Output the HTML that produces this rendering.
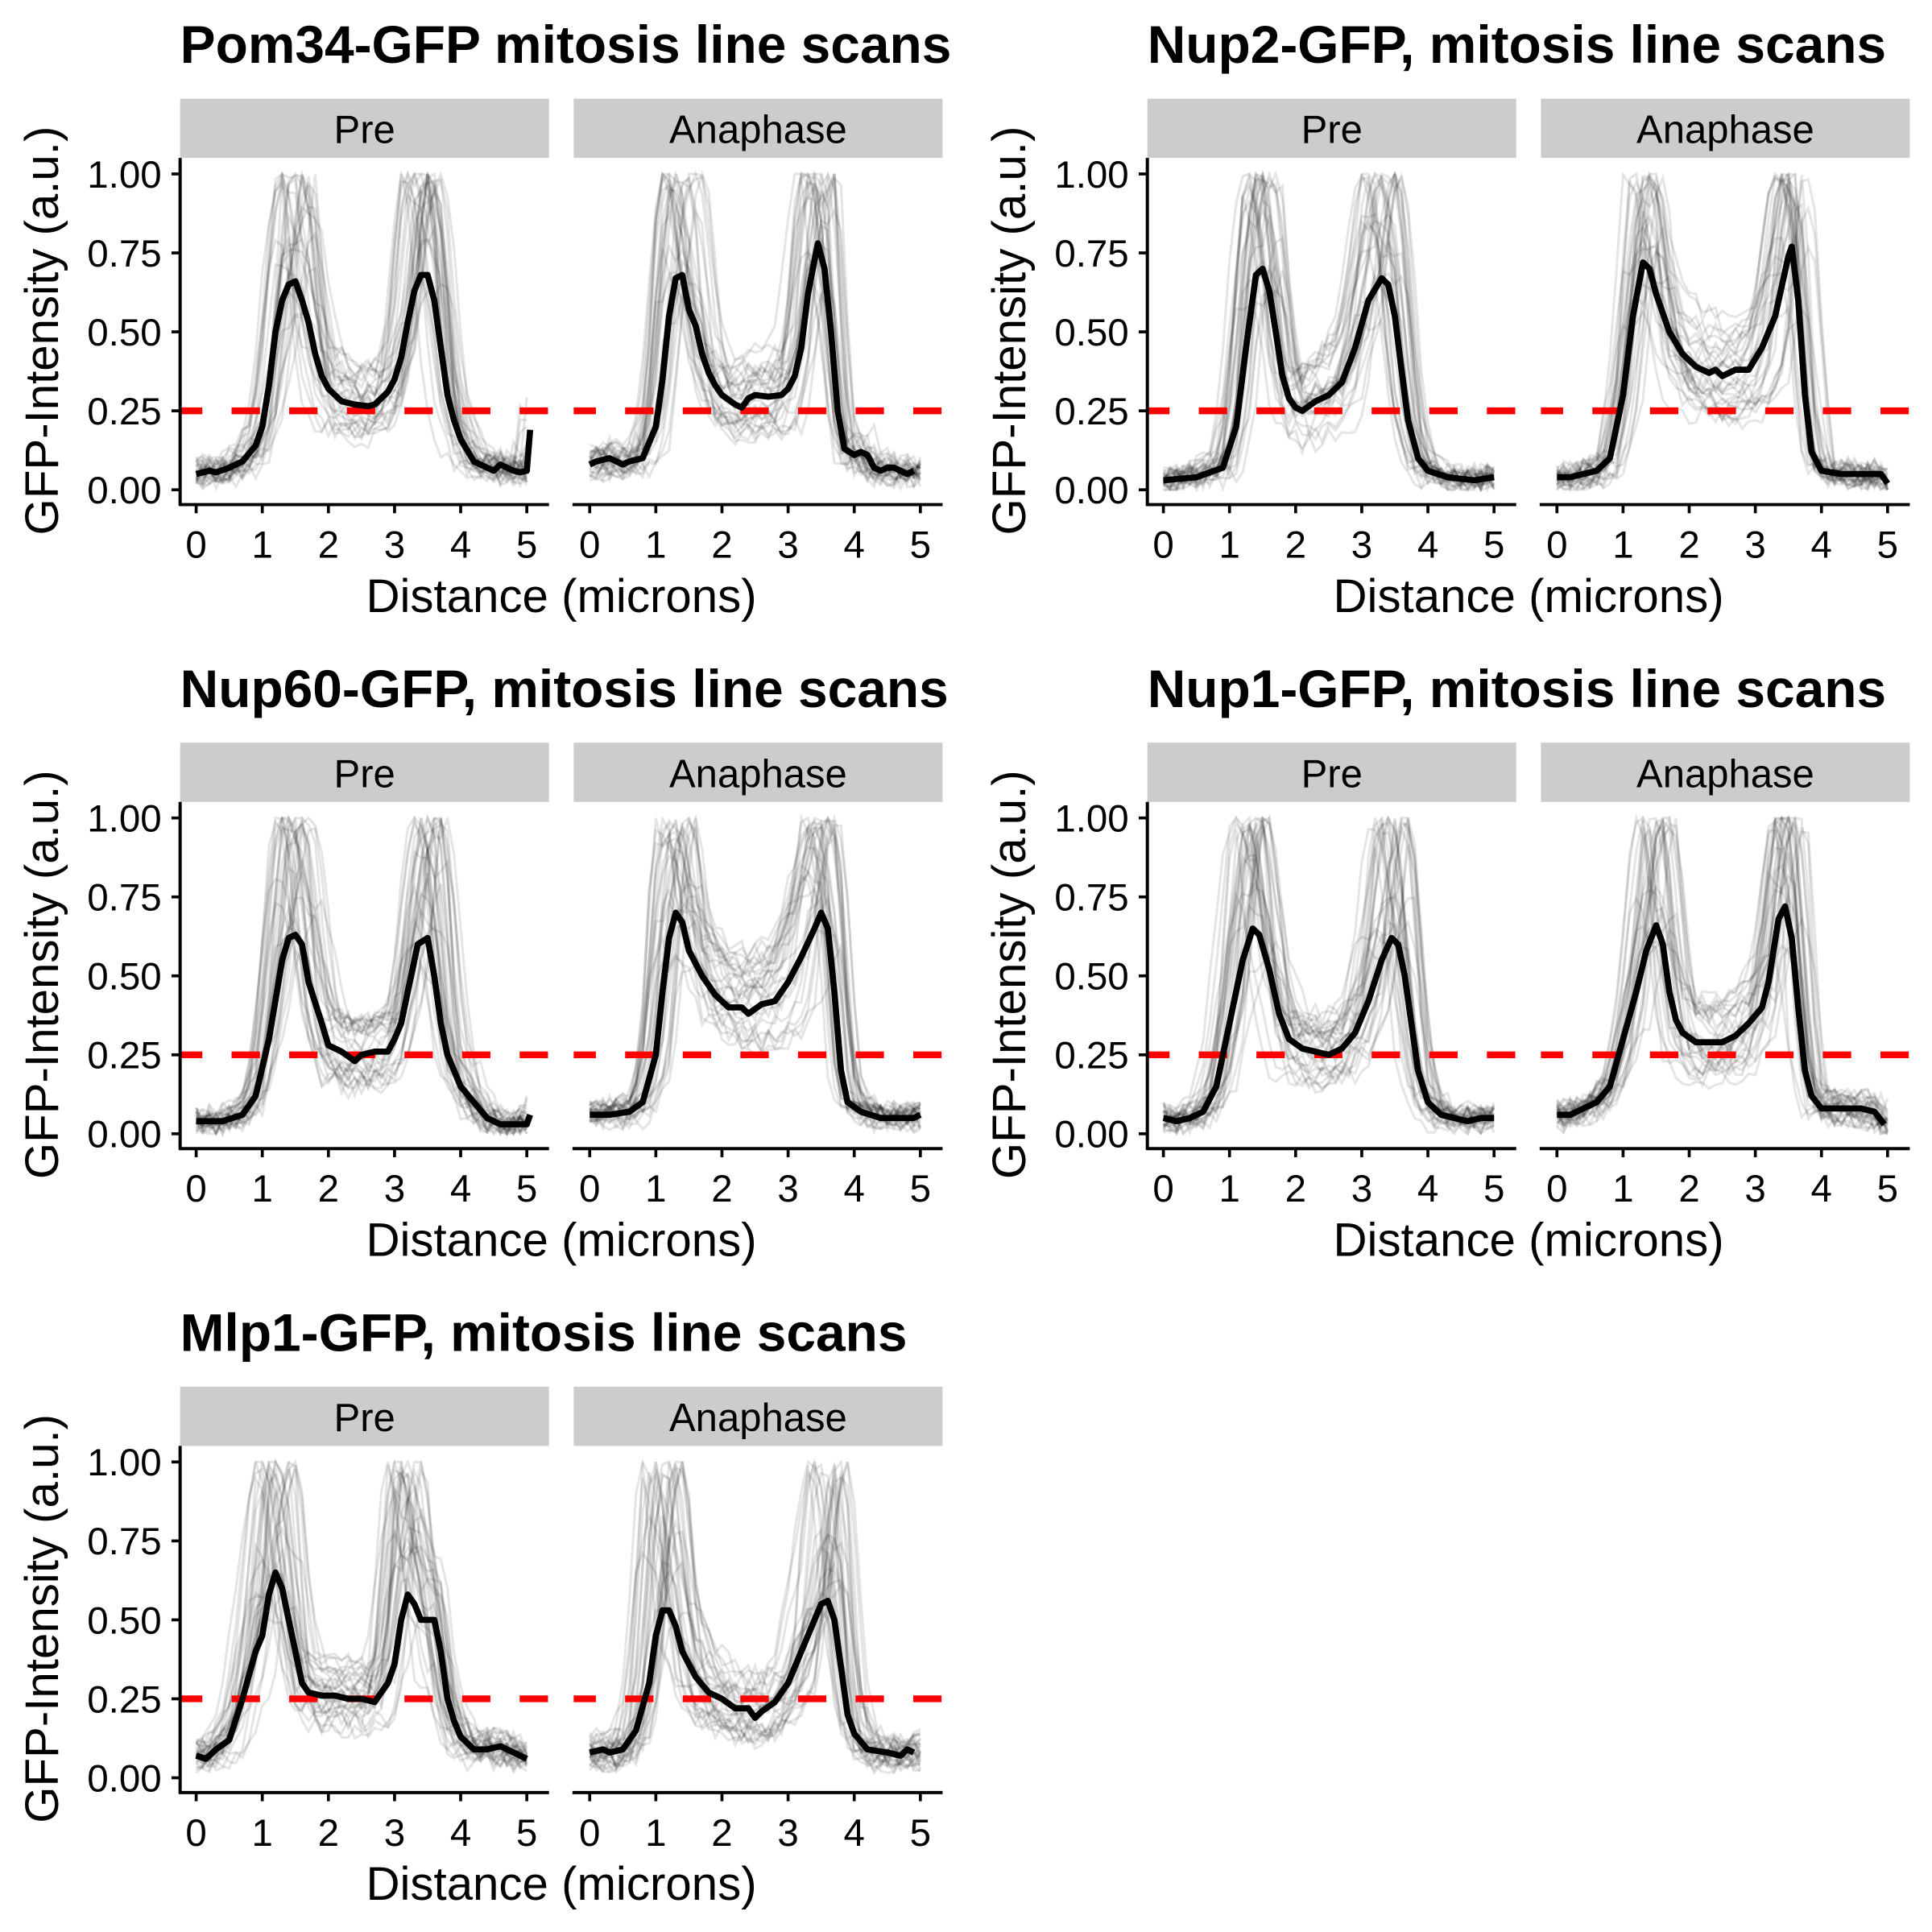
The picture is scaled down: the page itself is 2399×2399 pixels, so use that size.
<!DOCTYPE html>
<html><head><meta charset="utf-8"><style>
html,body{margin:0;padding:0;background:#fff;}
svg{display:block;}
text{font-family:"Liberation Sans",Arial,sans-serif;fill:#000;}
</style></head><body>
<svg id="s" width="2399" height="2399" viewBox="0 0 1566 1566" xmlns="http://www.w3.org/2000/svg"></svg>
<script>
const P=(a)=>{const r=[];for(let i=0;i<a.length;i+=2)r.push([a[i],a[i+1]]);return r;};
const D={
pomP:P([0,.05,.2,.06,.3,.055,.5,.07,.7,.09,.9,.14,1.0,.2,1.1,.33,1.2,.5,1.3,.6,1.4,.65,1.5,.66,1.6,.6,1.7,.53,1.8,.43,1.9,.36,2.0,.32,2.2,.28,2.4,.27,2.6,.265,2.7,.27,2.9,.31,3.0,.35,3.1,.42,3.2,.53,3.3,.63,3.4,.68,3.5,.68,3.6,.6,3.7,.45,3.8,.3,3.9,.22,4.0,.16,4.2,.09,4.4,.07,4.5,.06,4.6,.08,4.8,.06,4.9,.055,5.0,.06,5.05,.19]),
pomA:P([0,.08,.1,.09,.3,.1,.5,.08,.6,.09,.8,.1,1.0,.2,1.1,.35,1.2,.55,1.3,.67,1.4,.68,1.5,.57,1.6,.52,1.7,.43,1.8,.37,1.9,.33,2.0,.3,2.2,.27,2.3,.26,2.4,.29,2.5,.3,2.7,.295,2.9,.3,3.0,.32,3.1,.36,3.2,.45,3.3,.62,3.45,.78,3.55,.7,3.65,.5,3.75,.25,3.85,.13,4.0,.11,4.1,.12,4.2,.11,4.3,.07,4.4,.06,4.5,.07,4.6,.07,4.7,.06,4.8,.05,4.9,.06]),
n2P:P([0,.03,.5,.04,.9,.07,1.1,.2,1.25,.45,1.4,.68,1.5,.7,1.6,.63,1.7,.5,1.8,.36,1.9,.29,2.0,.26,2.1,.25,2.3,.28,2.5,.3,2.7,.34,2.9,.45,3.1,.6,3.3,.67,3.4,.65,3.5,.55,3.6,.38,3.7,.22,3.85,.1,4.0,.06,4.3,.04,4.7,.03,5.0,.04]),
n2A:P([0,.04,.2,.04,.4,.05,.6,.06,.8,.1,1.0,.3,1.15,.55,1.3,.72,1.4,.7,1.5,.62,1.7,.5,1.9,.43,2.1,.39,2.3,.37,2.4,.38,2.5,.36,2.7,.38,2.9,.38,3.1,.45,3.3,.55,3.5,.74,3.55,.77,3.65,.6,3.75,.3,3.85,.12,4.0,.06,4.3,.05,4.6,.05,4.9,.05,5.0,.02]),
n60P:P([0,.04,.4,.04,.7,.06,.9,.12,1.1,.3,1.3,.55,1.4,.62,1.5,.63,1.6,.6,1.7,.48,1.9,.35,2.0,.28,2.2,.26,2.4,.23,2.5,.25,2.7,.26,2.9,.26,3.0,.3,3.1,.35,3.2,.45,3.35,.6,3.5,.62,3.6,.5,3.7,.35,3.8,.25,4.0,.15,4.2,.1,4.4,.05,4.6,.03,4.8,.03,5.0,.03,5.05,.06]),
n60A:P([0,.06,.3,.06,.6,.07,.8,.1,1.0,.25,1.1,.45,1.2,.62,1.3,.7,1.4,.67,1.5,.58,1.7,.5,1.9,.44,2.1,.4,2.3,.4,2.4,.38,2.6,.41,2.8,.42,3.0,.48,3.2,.56,3.4,.65,3.5,.7,3.6,.65,3.7,.45,3.8,.2,3.9,.1,4.1,.07,4.4,.05,4.7,.05,4.9,.05,5.0,.06]),
n1P:P([0,.05,.2,.04,.4,.05,.6,.07,.8,.15,1.0,.35,1.2,.55,1.35,.65,1.45,.63,1.6,.52,1.75,.38,1.9,.3,2.1,.27,2.3,.26,2.5,.25,2.7,.27,2.9,.32,3.1,.42,3.3,.55,3.45,.62,3.55,.6,3.65,.5,3.75,.35,3.85,.2,4.0,.1,4.2,.06,4.4,.05,4.6,.04,4.8,.05,5.0,.05]),
n1A:P([0,.06,.2,.06,.4,.08,.6,.1,.8,.15,1.0,.3,1.2,.45,1.35,.58,1.5,.66,1.6,.6,1.7,.45,1.8,.36,1.9,.32,2.1,.29,2.3,.29,2.5,.29,2.7,.31,2.9,.35,3.1,.4,3.2,.48,3.35,.68,3.45,.72,3.55,.62,3.65,.4,3.75,.2,3.85,.12,4.0,.08,4.3,.08,4.6,.08,4.8,.07,4.95,.03]),
mP:P([0,.07,.15,.06,.3,.09,.5,.12,.7,.25,.9,.4,1.0,.45,1.1,.58,1.2,.65,1.3,.6,1.4,.5,1.5,.4,1.6,.3,1.7,.27,1.9,.26,2.1,.26,2.3,.25,2.5,.25,2.7,.24,2.9,.3,3.0,.36,3.1,.5,3.2,.58,3.3,.55,3.4,.5,3.6,.5,3.7,.4,3.8,.25,3.9,.18,4.0,.13,4.2,.09,4.4,.09,4.6,.1,4.8,.08,5.0,.06]),
mA:P([0,.08,.2,.09,.3,.08,.5,.09,.7,.15,.9,.3,1.0,.45,1.1,.53,1.2,.53,1.3,.48,1.4,.4,1.6,.32,1.8,.27,2.0,.25,2.2,.22,2.4,.22,2.5,.19,2.6,.21,2.8,.24,3.0,.3,3.2,.4,3.4,.5,3.5,.55,3.6,.56,3.7,.5,3.8,.35,3.9,.2,4.0,.14,4.2,.09,4.5,.08,4.7,.07,4.8,.09,4.9,.08])
};
let seed=12345;const rnd=()=>{seed=(seed*16807)%2147483647;return (seed-1)/2147483646;};
function interp(d,x){if(x<=d[0][0])return d[0][1];for(let i=1;i<d.length;i++){if(x<=d[i][0]){const a=d[i-1],b=d[i];return a[1]+(b[1]-a[1])*(x-a[0])/(b[0]-a[0]);}}return d[d.length-1][1];}
function peaks(d){let a=[0,0],b=[0,0];for(const p of d){if(p[0]<2.5){if(p[1]>a[1])a=p;}else{if(p[1]>b[1])b=p;}}return [a,b];}
let out='';
function T(x,y,s,sz,extra){out+=`<text x="${x}" y="${y}" font-size="${sz}" ${extra||''}>${s}</text>`;}
function facet(x0,oy,label,data){
  const px=v=>x0+13+53.6*v, py=v=>oy+397-256*v;
  out+=`<rect x="${x0}" y="${oy+80}" width="299" height="48" fill="#cccccc"/>`;
  T(x0+149.5,oy+116,label,32,'text-anchor="middle"');
  const pk=peaks(data);
  const n=30;
  for(let k=0;k<n;k++){
    const s1=(rnd()-0.5)*0.6, s2=(rnd()-0.5)*0.6, sm=(s1+s2)/2;
    const w1=0.12+rnd()*0.16, w2=0.12+rnd()*0.16;
    const a1=rnd()<0.6?1:0.5+rnd()*0.5, a2=rnd()<0.6?1:0.5+rnd()*0.5;
    const mk=0.6+rnd()*0.9;
    let pts=[];
    for(let x=0;x<=5.01;x+=0.1){
      let base=interp(data,x-sm)*mk;
      let g1=Math.exp(-Math.pow((x-pk[0][0]-s1)/w1,2)), g2=Math.exp(-Math.pow((x-pk[1][0]-s2)/w2,2));
      let v=Math.max(base*(1-g1)*(1-g2)+a1*g1+a2*g2, base*0.8)+(rnd()-0.5)*0.07;
      v=Math.max(0,Math.min(1,v));
      pts.push(px(x).toFixed(1)+','+py(v).toFixed(1));
    }
    out+=`<polyline points="${pts.join(' ')}" fill="none" stroke="#000" stroke-opacity="0.1" stroke-width="2"/>`;
  }
  out+=`<line x1="${x0}" y1="${oy+333}" x2="${x0+299}" y2="${oy+333}" stroke="#ff0000" stroke-width="5.5" stroke-dasharray="23 23.7" stroke-dashoffset="5"/>`;
  out+=`<polyline points="${data.map(p=>px(p[0]).toFixed(1)+','+py(p[1]).toFixed(1)).join(' ')}" fill="none" stroke="#000" stroke-width="5" stroke-linejoin="round"/>`;
  out+=`<line x1="${x0-1}" y1="${oy+409}" x2="${x0+299}" y2="${oy+409}" stroke="#000" stroke-width="2.6"/>`;
  for(let i=0;i<=5;i++){out+=`<line x1="${px(i)}" y1="${oy+409}" x2="${px(i)}" y2="${oy+416}" stroke="#000" stroke-width="2.4"/>`;T(px(i),oy+452,i,31,'text-anchor="middle"');}
}
function panel(ox,oy,title,pre,ana){
  T(ox+146,oy+51,title,43,'font-weight="bold"');
  facet(ox+146,oy,'Pre',pre);
  facet(ox+465,oy,'Anaphase',ana);
  out+=`<line x1="${ox+146}" y1="${oy+128}" x2="${ox+146}" y2="${oy+410}" stroke="#000" stroke-width="2.6"/>`;
  const lab=['0.00','0.25','0.50','0.75','1.00'];
  for(let i=0;i<5;i++){const y=oy+397-64*i;out+=`<line x1="${ox+139}" y1="${y}" x2="${ox+146}" y2="${y}" stroke="#000" stroke-width="2.4"/>`;T(ox+131,y+11,lab[i],31,'text-anchor="end"');}
  T(ox+455,oy+496,'Distance (microns)',38,'text-anchor="middle"');
  T(ox+47,oy+268,'GFP-Intensity (a.u.)',38,`text-anchor="middle" transform="rotate(-90 ${ox+47} ${oy+268})"`);
}
panel(0,0,'Pom34-GFP mitosis line scans',D.pomP,D.pomA);
panel(784,0,'Nup2-GFP, mitosis line scans',D.n2P,D.n2A);
panel(0,522,'Nup60-GFP, mitosis line scans',D.n60P,D.n60A);
panel(784,522,'Nup1-GFP, mitosis line scans',D.n1P,D.n1A);
panel(0,1044,'Mlp1-GFP, mitosis line scans',D.mP,D.mA);
document.getElementById('s').innerHTML=out;
</script>
</body></html>
